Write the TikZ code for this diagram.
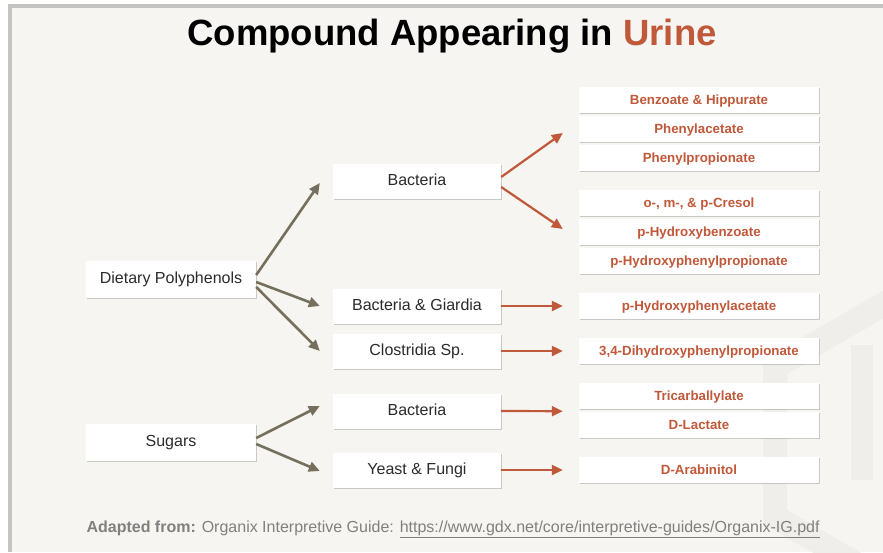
\documentclass[tikz,border=0pt]{standalone}
\usepackage{fontspec}
\setmainfont{Liberation Sans}
\usetikzlibrary{arrows.meta,shadows}
\definecolor{slidebg}{HTML}{F6F5F1}
\definecolor{framegray}{HTML}{C4C4C2}
\definecolor{markgray}{HTML}{EFEEEA}
\definecolor{urinered}{HTML}{C0583A}
\definecolor{arrowgray}{HTML}{756F5C}
\definecolor{boxtext}{HTML}{2B2B2B}
\definecolor{notegray}{HTML}{808080}
\begin{document}
\begin{tikzpicture}[x=1pt, y=-1pt, >={Triangle[length=11pt,width=10pt]},
  card/.style={fill=white, inner sep=0pt, text depth=0pt, text height=0.95em,
    drop shadow={shadow xshift=0.6pt, shadow yshift=-1.2pt, opacity=0.18, fill=black}},
  source/.style={card, minimum width=170pt, minimum height=37pt, text=boxtext, font=\fontsize{16}{19}\selectfont},
  agent/.style={card, minimum width=168pt, minimum height=35pt, text=boxtext, font=\fontsize{16}{19}\selectfont},
  compound/.style={card, minimum width=240pt, minimum height=26pt, text=urinered, font=\bfseries\fontsize{13.3}{16}\selectfont},
  feed/.style={->, draw=arrowgray, fill=arrowgray, line width=2.6pt},
  yield/.style={->, draw=urinered, fill=urinered, line width=2.2pt}]
% slide frame
\fill[white] (0,0) rectangle (883,552);
\fill[framegray] (8,4) rectangle (883,552);
\fill[slidebg] (12,8) rectangle (883,552);
% faint logo
\begin{scope}
\clip (12,8) rectangle (883,552);
\draw[markgray, line width=24pt, line join=round] (905,292) -- (775,367) -- (775,517) -- (905,592);
\draw[markgray, line width=22pt] (862,345) -- (862,480);
\end{scope}
\node[font=\bfseries\fontsize{36.5}{42}\selectfont] (title) at (452,36) {Compound Appearing in \textcolor{urinered}{Urine}};
% sources
\node[source] (dp) at (171,279) {Dietary Polyphenols};
\node[source] (sg) at (171,442) {Sugars};
% organisms
\node[agent] (bac1) at (417,181) {Bacteria};
\node[agent] (bg) at (417,306) {Bacteria \& Giardia};
\node[agent] (cl) at (417,351) {Clostridia Sp.};
\node[agent] (bac2) at (417,411) {Bacteria};
\node[agent] (yf) at (417,470) {Yeast \& Fungi};
% compounds
\node[compound] (bh) at (699,100) {Benzoate \& Hippurate};
\node[compound] (pa) at (699,129) {Phenylacetate};
\node[compound] (pp) at (699,158) {Phenylpropionate};
\node[compound] (cr) at (699,203) {o-, m-, \& p-Cresol};
\node[compound] (phb) at (699,232) {p-Hydroxybenzoate};
\node[compound] (phpp) at (699,261) {p-Hydroxyphenylpropionate};
\node[compound] (pha) at (699,306) {p-Hydroxyphenylacetate};
\node[compound] (dhpp) at (699,351) {3,4-Dihydroxyphenylpropionate};
\node[compound] (tca) at (699,396) {Tricarballylate};
\node[compound] (dl) at (699,425) {D-Lactate};
\node[compound] (da) at (699,470) {D-Arabinitol};
% source arrows
\draw[feed] ([yshift=4pt]dp.east) -- ([xshift=-13pt,yshift=-2pt]bac1.west);
\draw[feed] ([yshift=-3pt]dp.east) -- ([xshift=-13pt]bg.west);
\draw[feed] ([yshift=-8pt]dp.east) -- ([xshift=-13pt]cl.west);
\draw[feed] ([yshift=4pt]sg.east) -- ([xshift=-13pt,yshift=5pt]bac2.west);
\draw[feed] ([yshift=-2pt]sg.east) -- ([xshift=-13pt,yshift=-1pt]yf.west);
% compound arrows
\draw[yield] ([yshift=4pt]bac1.east) -- ([xshift=-16pt,yshift=-4pt]pa.west);
\draw[yield] ([yshift=-6pt]bac1.east) -- ([xshift=-16pt,yshift=3pt]phb.west);
\draw[yield] (bg.east) -- ([xshift=-16pt]pha.west);
\draw[yield] (cl.east) -- ([xshift=-16pt]dhpp.west);
\draw[yield] (bac2.east) -- ([xshift=-16pt,yshift=-2pt]tca.south west);
\draw[yield] (yf.east) -- ([xshift=-16pt]da.west);
% source note
\node[anchor=base west, text=notegray, font=\fontsize{16}{19}\selectfont] (note) at (83,532)
  {\textbf{Adapted from:} Organix Interpretive Guide: \underline{https://www.gdx.net/core/interpretive-guides/Organix-IG.pdf}};
\end{tikzpicture}
\end{document}
